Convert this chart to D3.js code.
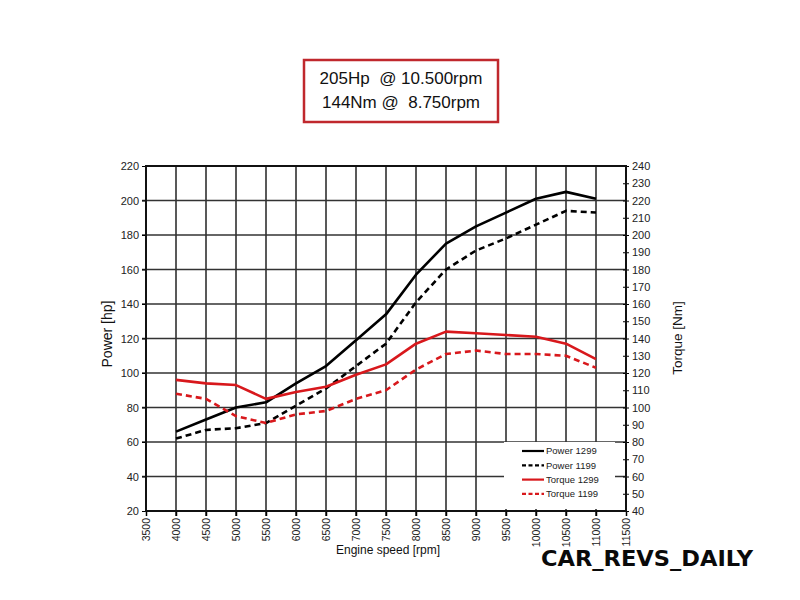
<!DOCTYPE html>
<html><head><meta charset="utf-8">
<script src="https://cdn.jsdelivr.net/npm/d3@7"></script>
<style>body{margin:0;background:#fff;} text{font-family:"Liberation Sans",Arial,sans-serif;}</style>
</head><body>
<svg id="c" width="800" height="600"></svg>
<script>
const rpm = [4000,4500,5000,5500,6000,6500,7000,7500,8000,8500,9000,9500,10000,10500,11000];
const power1299 = [66,73,80,83,94,104,119,134,157,175,185,193,201,205,201];
const power1199 = [62,67,68,71,81,91,104,117,141,160,171,178,186,194,193];
const torque1299 = [116,114,113,105,109,112,119,125,137,144,143,142,141,137,128];
const torque1199 = [108,105,95,91,96,98,105,110,122,131,133,131,131,130,123];
const xTicks = d3.range(3500, 11501, 500);
const powerTicks = d3.range(20, 221, 20);
const torqueTicks = d3.range(40, 241, 10);
const legendLabels = ["Power 1299","Power 1199","Torque 1299","Torque 1199"];
const titleLines = ["205Hp  @ 10.500rpm","144Nm @  8.750rpm"];

const svg = d3.select("#c");
const L=146, R=626, T=166, B=511;
const x = d3.scaleLinear().domain([3500,11500]).range([L,R]);
const yP = d3.scaleLinear().domain([20,220]).range([B,T]);
const yT = d3.scaleLinear().domain([40,240]).range([B,T]);

// title box
svg.append("rect").attr("x",304).attr("y",60).attr("width",194).attr("height",62)
  .attr("fill","#fff").attr("stroke","#c0282d").attr("stroke-width",2.5);
titleLines.forEach((t,i)=>svg.append("text").attr("x",401).attr("y",84+i*24)
  .attr("text-anchor","middle").attr("font-size",17).attr("fill","#111").style("white-space","pre").text(t));

// grid
const g = svg.append("g");
g.selectAll(".vg").data(xTicks.slice(1,-1)).join("line")
  .attr("x1",d=>x(d)).attr("x2",d=>x(d)).attr("y1",T).attr("y2",B+5)
  .attr("stroke","#222").attr("stroke-width",1.5);
g.selectAll(".hg").data(powerTicks.slice(1,-1)).join("line")
  .attr("x1",L-4).attr("x2",R).attr("y1",d=>yP(d)).attr("y2",d=>yP(d))
  .attr("stroke","#333").attr("stroke-width",1.3);

// left axis
const ax = d3.axisLeft(yP).tickValues(powerTicks).tickSize(4).tickPadding(3);
const gl = svg.append("g").attr("transform",`translate(${L},0)`).call(ax);
gl.select(".domain").remove();
gl.selectAll("text").attr("font-size",11).attr("fill","#222").style("font-family","Liberation Sans, Arial");
// right axis
const ar = d3.axisRight(yT).tickValues(torqueTicks).tickSize(3).tickPadding(3);
const gr = svg.append("g").attr("transform",`translate(${R},0)`).call(ar);
gr.select(".domain").remove();
gr.selectAll("line").attr("x1",-3);
gr.selectAll("text").attr("font-size",11).attr("fill","#222").style("font-family","Liberation Sans, Arial");
// bottom axis
const ab = d3.axisBottom(x).tickValues(xTicks).tickSize(5).tickFormat(d3.format("d"));
const gb = svg.append("g").attr("transform",`translate(0,${B})`).call(ab);
gb.select(".domain").remove();
gb.selectAll("line").attr("stroke-width",1.5);
gb.selectAll("text").attr("font-size",10.5).attr("fill","#222").style("font-family","Liberation Sans, Arial")
  .attr("text-anchor","end").attr("transform","rotate(-90)").attr("x",-7).attr("y",0).attr("dy","0.35em");

// lines
const lineP = d3.line().x((d,i)=>x(rpm[i])).y(d=>yP(d));
const lineT = d3.line().x((d,i)=>x(rpm[i])).y(d=>yT(d));
const series = [
  {v:power1299, f:lineP, c:"#000", dash:null},
  {v:power1199, f:lineP, c:"#000", dash:"6,4"},
  {v:torque1299, f:lineT, c:"#d8181c", dash:null},
  {v:torque1199, f:lineT, c:"#d8181c", dash:"6,4"}
];
series.forEach(s=>svg.append("path").attr("d",s.f(s.v)).attr("fill","none")
  .attr("stroke",s.c).attr("stroke-width",2.6).attr("stroke-dasharray",s.dash).attr("stroke-linejoin","round"));

// legend
svg.append("rect").attr("x",504).attr("y",442).attr("width",111).attr("height",67).attr("fill","#fff");
legendLabels.forEach((t,i)=>{
  const yy = 451+i*14.3;
  svg.append("line").attr("x1",522).attr("x2",544).attr("y1",yy).attr("y2",yy)
    .attr("stroke",series[i].c).attr("stroke-width",2.2).attr("stroke-dasharray",series[i].dash?"4,2.5":null);
  svg.append("text").attr("x",546).attr("y",yy).attr("dy","0.35em").attr("font-size",9.5).attr("fill","#222").text(t);
});

// frame
svg.append("rect").attr("x",L).attr("y",T).attr("width",R-L).attr("height",B-T)
  .attr("fill","none").attr("stroke","#111").attr("stroke-width",2);

// axis titles
svg.append("text").attr("transform",`translate(112,334) rotate(-90)`).attr("text-anchor","middle")
  .attr("font-size",14).attr("fill","#111").text("Power [hp]");
svg.append("text").attr("transform",`translate(682,338) rotate(-90)`).attr("text-anchor","middle")
  .attr("font-size",13.5).attr("fill","#111").text("Torque [Nm]");
svg.append("text").attr("x",388).attr("y",554).attr("text-anchor","middle")
  .attr("font-size",12).attr("fill","#111").text("Engine speed [rpm]");

// watermark
svg.append("text").attr("x",541).attr("y",566).attr("font-size",21).attr("font-weight","bold")
  .style("font-family","DejaVu Sans, sans-serif").attr("fill","#0a0a0a")
  .attr("textLength",212).attr("lengthAdjust","spacingAndGlyphs").text("CAR_REVS_DAILY");
</script>
</body></html>
